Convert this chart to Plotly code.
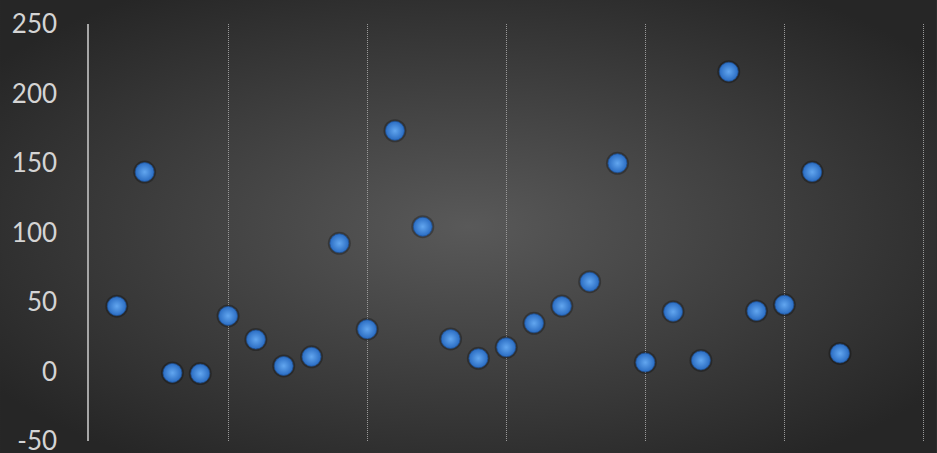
import plotly.graph_objects as go
import urllib.parse

x_vals = list(range(1, 28))
y_vals = [47, 143.5, -1, -1.5, 40, 23, 4, 10.6, 92.2, 30.4, 173.2, 104.2, 23.4, 9.5,
          17.4, 34.7, 47.1, 64.6, 149.8, 6.5, 43, 8, 215.7, 43.5, 48, 143.5, 13]
y_ticks = [-50, 0, 50, 100, 150, 200, 250]
y_tick_labels = ["-50", "0", "50", "100", "150", "200", "250"]
x_grid = [5, 10, 15, 20, 25, 30]

W, H = 937, 453
ML, MR, MT, MB = 89, 7.5, 24, 12
pw, ph = W - ML - MR, H - MT - MB

svg = ("<svg xmlns='http://www.w3.org/2000/svg' width='937' height='453' preserveAspectRatio='none' viewBox='0 0 937 453'>"
       "<defs><radialGradient id='g' cx='50%' cy='50%' r='62%'>"
       "<stop offset='0%' stop-color='#595959'/>"
       "<stop offset='100%' stop-color='#262626'/>"
       "</radialGradient></defs>"
       "<rect width='937' height='453' fill='url(#g)'/></svg>")
bg_src = "data:image/svg+xml;charset=utf-8," + urllib.parse.quote(svg)

fig = go.Figure()
# soft shadow
fig.add_trace(go.Scatter(
    x=x_vals, y=y_vals, mode="markers", hoverinfo="skip",
    marker=dict(size=23, color="rgba(0,0,0,0.28)", line=dict(width=0)),
))
fig.add_trace(go.Scatter(
    x=x_vals, y=y_vals, mode="markers",
    marker=dict(size=19, color="#2a6cc2",
                gradient=dict(type="radial", color="#62a6ef"),
                line=dict(color="rgba(30,80,145,0.9)", width=0.8)),
))

fig.update_layout(
    width=W, height=H,
    margin=dict(l=ML, r=MR, t=MT, b=MB, autoexpand=False),
    paper_bgcolor="#2e2e2e", plot_bgcolor="rgba(0,0,0,0)",
    showlegend=False,
    font=dict(family="Lato, 'Open Sans', sans-serif", color="#d9d9d9"),
    images=[dict(source=bg_src, xref="paper", yref="paper",
                 x=-ML / pw, y=1 + MT / ph, sizex=W / pw, sizey=H / ph,
                 xanchor="left", yanchor="top", sizing="stretch", layer="below")],
    xaxis=dict(range=[0, 30.2], showticklabels=False, zeroline=False,
               tickmode="array", tickvals=x_grid, ticks="", automargin=False,
               showgrid=True, gridcolor="#9a9a9a", gridwidth=1, griddash="1px,1px",
               showline=False),
    yaxis=dict(range=[-50, 250], tickmode="array", tickvals=y_ticks,
               ticktext=y_tick_labels,
               showgrid=False, zeroline=False, showline=True, automargin=False,
               linecolor="#a6a6a6", linewidth=1.5,
               ticks="", ticklabelstandoff=25, ticklabeloverflow="allow",
               tickfont=dict(size=26, color="#d4d4d4")),
)

fig.write_html("out.html")
